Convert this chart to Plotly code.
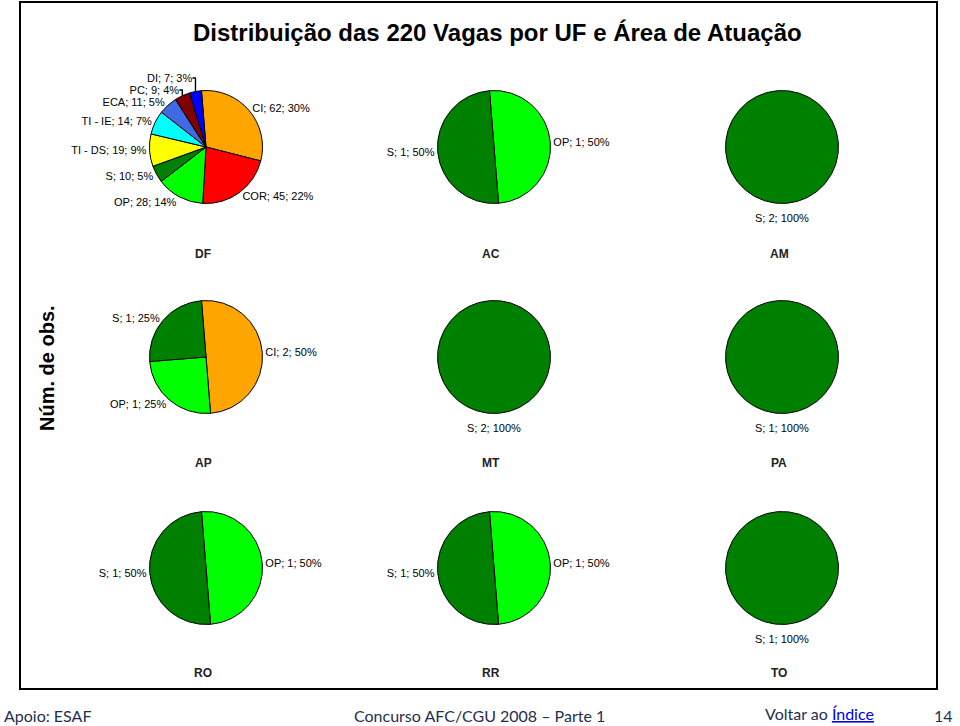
import plotly.graph_objects as go

# vagas por UF e área de atuação
ufs = ["DF", "AC", "AM", "AP", "MT", "PA", "RO", "RR", "TO"]

df_areas = ["CI", "COR", "OP", "S", "TI - DS", "TI - IE", "ECA", "PC", "DI"]
df_vagas = [62, 45, 28, 10, 19, 14, 11, 9, 7]

ac_areas = ["OP", "S"]
ac_vagas = [1, 1]
am_areas = ["S"]
am_vagas = [2]
ap_areas = ["CI", "OP", "S"]
ap_vagas = [2, 1, 1]
mt_areas = ["S"]
mt_vagas = [2]
pa_areas = ["S"]
pa_vagas = [1]
ro_areas = ["OP", "S"]
ro_vagas = [1, 1]
rr_areas = ["OP", "S"]
rr_vagas = [1, 1]
to_areas = ["S"]
to_vagas = [1]

cores = {"CI": "#FFA500", "COR": "#FF0000", "OP": "#00FF00", "S": "#008000",
         "TI - DS": "#FFFF00", "TI - IE": "#00FFFF", "ECA": "#4169E1",
         "PC": "#800000", "DI": "#0000FF"}

dados = [(df_areas, df_vagas), (ac_areas, ac_vagas), (am_areas, am_vagas),
         (ap_areas, ap_vagas), (mt_areas, mt_vagas), (pa_areas, pa_vagas),
         (ro_areas, ro_vagas), (rr_areas, rr_vagas), (to_areas, to_vagas)]

W, H = 960, 726
cols = [206, 494, 782]   # centro das pizzas em px
rows = [147, 357, 568]
R = 56.5

def px_x(x):
    return x / W

def px_y(y):
    return 1 - y / H

def texto(x, y, txt, fonte, xanchor="center", **kw):
    fig.add_annotation(x=px_x(x), y=px_y(y), xref="paper", yref="paper",
                       xanchor=xanchor, yanchor="middle", text=txt,
                       showarrow=False, font=fonte, **kw)

rotulo = dict(family="Liberation Sans, Arial", size=11, color="black")

fig = go.Figure()
for i, (areas, vagas) in enumerate(dados):
    cx = cols[i % 3]
    cy = rows[i // 3]
    pie = dict(
        labels=areas, values=vagas, sort=False, direction="clockwise",
        rotation=-4.6,
        marker=dict(colors=[cores[a] for a in areas], line=dict(color="black", width=1)),
        hoverinfo="label+value+percent",
        domain=dict(x=[px_x(cx - R), px_x(cx + R)], y=[px_y(cy + R), px_y(cy - R)]),
        showlegend=False,
    )
    if len(areas) == 1:
        # fatia única: rótulo centrado abaixo da pizza
        pie["textposition"] = "none"
        texto(cx, cy + R + 14, "%s; %d; 100%%" % (areas[0], vagas[0]), rotulo)
    else:
        pie["texttemplate"] = "%{label}; %{value}; %{percent:.0%}"
        pie["textposition"] = "outside"
        pie["outsidetextfont"] = rotulo
    fig.add_trace(go.Pie(**pie))

    ly = [254, 463, 673][i // 3]
    texto(cx - 3, ly, "<b>" + ufs[i] + "</b>",
          dict(family="Liberation Sans, Arial", size=12, color="#222222"))

# título e eixo
texto(497, 33, "<b>Distribuição das 220 Vagas por UF e Área de Atuação</b>",
      dict(family="Liberation Sans, Arial", size=24, color="black"))
texto(47, 368, "<b>Núm. de obs.</b>",
      dict(family="Liberation Sans, Arial", size=20, color="black"), textangle=-90)

# moldura
fig.add_shape(type="rect", xref="paper", yref="paper",
              x0=px_x(20), x1=px_x(937), y0=px_y(689), y1=px_y(2),
              line=dict(color="black", width=2))

# rodapé
rodape = dict(family="Lato, Open Sans, sans-serif", size=16, color="#1F2F4F")
texto(2, 715, "Apoio: ESAF", rodape, xanchor="left")
texto(479, 715, "Concurso AFC/CGU 2008 – Parte 1", rodape)
texto(763, 713, "Voltar ao <span style='color:#0000EE'><u>Índice</u></span>", rodape, xanchor="left")
texto(955, 715, "14", rodape, xanchor="right")

fig.update_layout(width=W, height=H, margin=dict(l=0, r=0, t=0, b=0),
                  paper_bgcolor="white", plot_bgcolor="white")

fig.write_html("out.html", config={"displayModeBar": False},
               post_script="document.body.style.margin='0';")
